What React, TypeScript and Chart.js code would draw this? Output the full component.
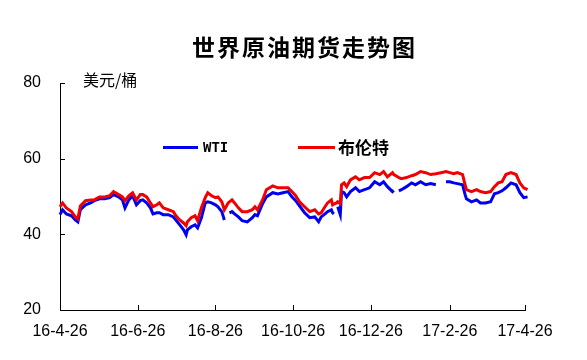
import React, { useEffect, useRef } from "react";
import { Chart, registerables } from "chart.js";

Chart.register(...registerables);

const chartTitle = "世界原油期货走势图";
const unitLabel = "美元/桶";
const seriesNames = ["WTI", "布伦特"];
const tickLabels = ["16-4-26", "16-6-26", "16-8-26", "16-10-26", "16-12-26", "17-2-26", "17-4-26"];
const yTicks = [20, 40, 60, 80];

const dates = [
  "16-4-26", "16-4-28", "16-5-1", "16-5-5", "16-5-8", "16-5-10", "16-5-12", "16-5-16", "16-5-20", "16-5-23",
  "16-5-27", "16-5-31", "16-6-4", "16-6-7", "16-6-11", "16-6-14", "16-6-16", "16-6-19", "16-6-22", "16-6-25",
  "16-6-28", "16-6-30", "16-7-3", "16-7-6", "16-7-8", "16-7-11", "16-7-13", "16-7-16", "16-7-20", "16-7-24",
  "16-7-26", "16-7-29", "16-8-1", "16-8-3", "16-8-4", "16-8-7", "16-8-10", "16-8-12", "16-8-15", "16-8-18",
  "16-8-20", "16-8-23", "16-8-26", "16-8-28", "16-8-31", "16-9-2", "16-9-5", "16-9-6", "16-9-8", "16-9-10",
  "16-9-13", "16-9-16", "16-9-20", "16-9-24", "16-9-26", "16-9-28", "16-10-2", "16-10-5", "16-10-10", "16-10-14",
  "16-10-18", "16-10-22", "16-10-25", "16-10-28", "16-10-31", "16-11-4", "16-11-8", "16-11-12", "16-11-15", "16-11-17",
  "16-11-20", "16-11-22", "16-11-25", "16-11-26", "16-11-27", "16-11-29", "16-11-30", "16-12-2", "16-12-3", "16-12-5",
  "16-12-7", "16-12-10", "16-12-14", "16-12-17", "16-12-21", "16-12-25", "16-12-29", "17-1-2", "17-1-5", "17-1-8",
  "17-1-12", "17-1-13", "17-1-16", "17-1-17", "17-1-19", "17-1-23", "17-1-27", "17-1-30", "17-2-3", "17-2-7",
  "17-2-11", "17-2-15", "17-2-19", "17-2-23", "17-2-26", "17-3-1", "17-3-4", "17-3-8", "17-3-10", "17-3-11",
  "17-3-15", "17-3-19", "17-3-22", "17-3-26", "17-3-30", "17-4-2", "17-4-5", "17-4-8", "17-4-11", "17-4-15",
  "17-4-19", "17-4-22", "17-4-25", "17-4-28",
];

const brent = [
  47.3, 48.3, 47.0, 46.0, 44.6, 44.1, 47.5, 48.9, 49.1, 49.1,
  49.9, 49.9, 50.2, 51.3, 50.5, 49.9, 48.9, 50.2, 51.0, 49.1,
  50.5, 50.5, 49.9, 48.3, 47.3, 47.8, 48.3, 47.0, 46.5, 46.0,
  44.9, 43.8, 43.0, 42.3, 43.3, 44.4, 44.9, 43.6, 47.0, 49.7,
  51.0, 50.2, 49.7, 49.9, 48.6, 46.5, 48.3, 48.6, 49.1, 48.3,
  47.0, 46.0, 46.0, 46.5, 47.3, 46.5, 49.1, 51.8, 52.8, 52.3,
  52.3, 52.3, 51.3, 50.2, 48.6, 47.3, 46.0, 46.5, 45.4, 45.7,
  47.3, 48.3, 49.1, 47.8, 48.0, 48.3, 48.6, 48.1, 53.1, 53.6,
  52.6, 54.4, 55.2, 54.4, 55.0, 55.0, 56.3, 55.8, 56.6, 55.2,
  56.3, 55.8, 55.2, 55.0, 54.7, 55.0, 55.5, 55.8, 56.6, 56.3,
  55.8, 56.0, 56.3, 56.6, 56.3, 56.0, 56.3, 55.8, 53.1, 51.8,
  51.3, 51.8, 51.3, 51.0, 51.3, 52.6, 53.6, 53.9, 55.8, 56.3,
  55.8, 53.6, 52.3, 51.8,
];

const wti = [
  45.2, 46.5, 45.4, 44.9, 43.8, 43.3, 46.5, 47.8, 48.3, 48.9,
  49.4, 49.4, 49.7, 50.5, 49.9, 49.1, 47.0, 49.1, 50.2, 47.8,
  48.9, 49.1, 48.3, 47.0, 45.4, 45.7, 45.7, 45.2, 45.2, 44.6,
  43.8, 42.5, 41.2, 39.9, 41.2, 42.0, 42.5, 41.7, 44.4, 48.3,
  48.6, 48.3, 47.8, 47.3, 46.0, 43.8, null, 45.7, 46.0, 45.4,
  44.6, 43.6, 43.3, 44.4, 45.2, 44.9, 48.1, 49.9, 51.0, 50.7,
  51.0, 51.3, 49.9, 48.9, 47.5, 45.7, 44.4, 44.6, 43.3, 44.6,
  45.4, 46.0, 46.5, 45.7, 45.4, null, 47.3, 45.2, 51.3, 51.0,
  49.9, 51.3, 52.3, 51.3, 51.8, 52.3, 53.9, 53.1, 53.9, 52.6,
  51.3, 51.6, null, 51.5, 51.8, 52.6, 53.6, 53.1, 53.9, 53.1,
  53.4, 53.1, null, 53.9, 53.9, 53.6, 53.4, 53.1, 50.5, 49.4,
  48.6, 49.1, 48.3, 48.3, 48.6, 50.7, 51.0, 51.5, 52.3, 53.6,
  53.1, 51.0, 49.7, 49.9,
];

function dayOffset(s: string): number {
  const [y, m, d] = s.split("-").map(Number);
  return (Date.UTC(2000 + y, m - 1, d) - Date.UTC(2016, 3, 26)) / 86400000;
}

const BLUE = "#0000f0";
const RED = "#f00000";

const decorPlugin = {
  id: "decor",
  afterDraw(chart: any) {
    const { ctx, chartArea, scales } = chart;
    const xs = scales.x;
    const ys = scales.y;
    ctx.save();
    ctx.strokeStyle = "#000";
    ctx.lineWidth = 1;
    yTicks.forEach((v) => {
      const py = Math.round(ys.getPixelForValue(v)) + 0.5;
      ctx.beginPath();
      ctx.moveTo(chartArea.left, py);
      ctx.lineTo(chartArea.left + 5, py);
      ctx.stroke();
    });
    tickLabels.forEach((l) => {
      const px = Math.round(xs.getPixelForValue(dayOffset(l))) + 0.5;
      ctx.beginPath();
      ctx.moveTo(px, chartArea.bottom);
      ctx.lineTo(px, chartArea.bottom - 5);
      ctx.stroke();
    });

    // title
    ctx.fillStyle = "#000";
    ctx.textBaseline = "middle";
    ctx.textAlign = "left";
    ctx.font = "bold 23px 'Noto Sans CJK SC'";
    try { (ctx as any).letterSpacing = "2px"; } catch (e) {}
    ctx.fillText(chartTitle, 192, 47);
    try { (ctx as any).letterSpacing = "0px"; } catch (e) {}

    // unit
    ctx.font = "16px 'Noto Sans CJK SC'";
    ctx.fillText(unitLabel, 83, 80);

    // legend
    ctx.lineWidth = 3;
    ctx.strokeStyle = BLUE;
    ctx.beginPath();
    ctx.moveTo(163, 147.5);
    ctx.lineTo(198, 147.5);
    ctx.stroke();
    ctx.strokeStyle = RED;
    ctx.beginPath();
    ctx.moveTo(298, 147.5);
    ctx.lineTo(335, 147.5);
    ctx.stroke();
    ctx.font = "bold 14px 'DejaVu Sans Mono'";
    ctx.fillText(seriesNames[0], 203, 148);
    ctx.font = "bold 17px 'Noto Sans CJK SC'";
    ctx.fillText(seriesNames[1], 338, 148);
    ctx.restore();
  },
};

export default function App() {
  const ref = useRef<HTMLCanvasElement>(null);
  useEffect(() => {
    if (!ref.current) return;
    const chart = new Chart(ref.current, {
      type: "line",
      data: {
        datasets: [
          {
            label: seriesNames[1],
            data: dates.map((d, i) => ({ x: dayOffset(d), y: brent[i] })),
            borderColor: RED,
            backgroundColor: RED,
            borderWidth: 3,
            pointRadius: 0,
            tension: 0,
            spanGaps: false,
            clip: false as any,
          },
          {
            label: seriesNames[0],
            data: dates.map((d, i) => ({ x: dayOffset(d), y: wti[i] })),
            borderColor: BLUE,
            backgroundColor: BLUE,
            borderWidth: 3,
            pointRadius: 0,
            tension: 0,
            spanGaps: false,
            clip: false as any,
          },
        ],
      },
      options: {
        responsive: false,
        animation: false,
        devicePixelRatio: 1,
        layout: { padding: { top: 83, right: 62, left: 0, bottom: 0 } },
        plugins: { legend: { display: false }, tooltip: { enabled: false }, title: { display: false } },
        scales: {
          x: {
            type: "linear",
            min: 0,
            max: 365,
            afterBuildTicks: (scale: any) => {
              scale.ticks = tickLabels.map((l) => ({ value: dayOffset(l) }));
            },
            afterFit: (scale: any) => {
              scale.height = 50;
            },
            ticks: {
              autoSkip: false,
              maxRotation: 0,
              padding: 12,
              color: "#000",
              font: { family: "'Liberation Sans', Arial", size: 16 },
              callback: (_v: any, i: number) => tickLabels[i],
            },
            grid: { display: true, drawOnChartArea: false, drawTicks: false },
            border: { display: true, color: "#000", width: 1 },
          },
          y: {
            type: "linear",
            min: 20,
            max: 80,
            afterBuildTicks: (scale: any) => {
              scale.ticks = yTicks.map((v) => ({ value: v }));
            },
            afterFit: (scale: any) => {
              scale.width = 60;
            },
            ticks: {
              padding: 19,
              color: "#000",
              font: { family: "'Liberation Sans', Arial", size: 16 },
            },
            grid: { display: true, drawOnChartArea: false, drawTicks: false },
            border: { display: true, color: "#000", width: 1 },
          },
        },
      },
      plugins: [decorPlugin],
    });
    return () => chart.destroy();
  }, []);

  return (
    <div style={{ position: "fixed", left: 0, top: 0, width: 587, height: 360, background: "#fff" }}>
      <canvas ref={ref} width={587} height={360} style={{ display: "block" }} />
    </div>
  );
}
